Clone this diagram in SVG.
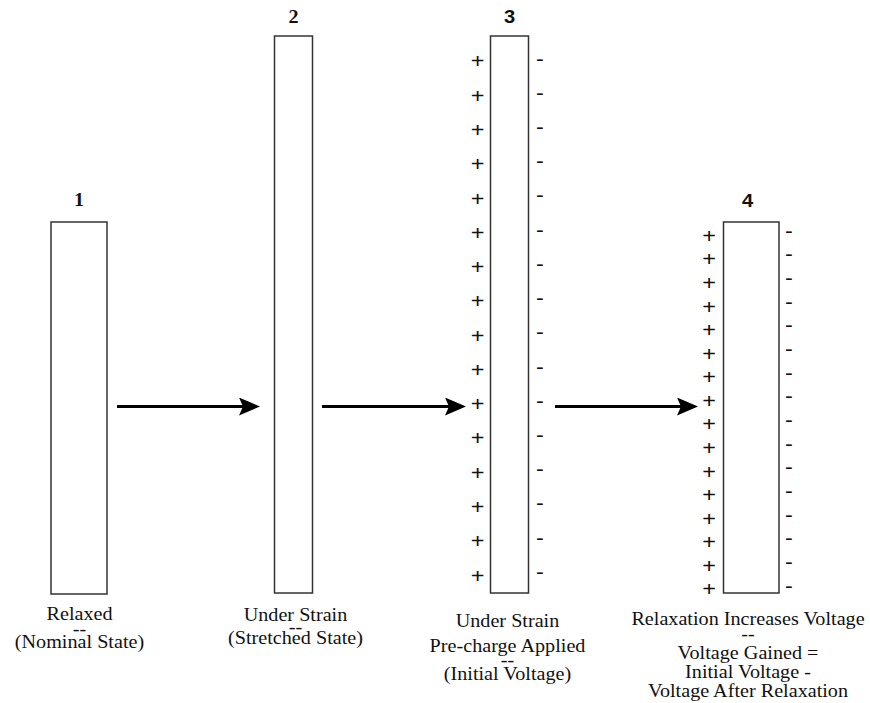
<svg xmlns="http://www.w3.org/2000/svg" width="870" height="703" viewBox="0 0 870 703">
<style>
.box{fill:#fff;stroke:#333;stroke-width:1.5}
.lbl{font-size:18px;fill:#111;text-anchor:middle}
.num{font-size:18px;font-weight:bold;fill:#111;text-anchor:middle}
.nums{font-size:18px;font-weight:bold;fill:#111;text-anchor:middle}
.pm{font-size:21px;fill:#111;text-anchor:middle}
.arr{stroke:#000;stroke-width:3;fill:none;marker-end:url(#ah)}
</style>
<defs>
<marker id="ah" markerUnits="userSpaceOnUse" markerWidth="21" markerHeight="18" viewBox="0 0 21 18" refX="4" refY="9" orient="auto">
<path d="M0,0 L21,9 L0,18 L4,9 Z" fill="#000"/>
</marker>
</defs>
<rect width="870" height="703" fill="#fff"/>
<g id="connectors">
<line class="arr" x1="117" y1="406.5" x2="243" y2="406.5"/>
<line class="arr" x1="322" y1="406.5" x2="449" y2="406.5"/>
<line class="arr" x1="555" y1="406.5" x2="681" y2="406.5"/>
</g>
<g font-family="Liberation Serif, Times New Roman, serif">
<g id="node1">
<rect class="box" x="51" y="222" width="56" height="372"/>
<text class="num" transform="translate(79,206) scale(1.12,1)">1</text>
<text class="lbl" transform="translate(79.5,620) scale(1.12,1)">Relaxed</text>
<text class="lbl" transform="translate(79.5,634.5) scale(1.12,1)">--</text>
<text class="lbl" transform="translate(79.5,647.5) scale(1.12,1)">(Nominal State)</text>
</g>
<g id="node2">
<rect class="box" x="274.5" y="36" width="38" height="557"/>
<text class="num" transform="translate(293.5,23) scale(1.12,1)">2</text>
<text class="lbl" transform="translate(295.5,621) scale(1.12,1)">Under Strain</text>
<text class="lbl" transform="translate(295.5,633) scale(1.12,1)">--</text>
<text class="lbl" transform="translate(295.5,643.5) scale(1.12,1)">(Stretched State)</text>
</g>
<g id="node3">
<rect class="box" x="490.5" y="36" width="38" height="557"/>
<text class="nums" font-family="Liberation Sans, Arial, sans-serif" transform="translate(509.5,23) scale(1.12,1)">3</text>
<g class="pm" font-family="Liberation Sans, Arial, sans-serif">
<text transform="translate(477.5,68.4) scale(1.12,1)">+</text>
<text transform="translate(477.5,102.6) scale(1.12,1)">+</text>
<text transform="translate(477.5,136.9) scale(1.12,1)">+</text>
<text transform="translate(477.5,171.2) scale(1.12,1)">+</text>
<text transform="translate(477.5,205.5) scale(1.12,1)">+</text>
<text transform="translate(477.5,239.7) scale(1.12,1)">+</text>
<text transform="translate(477.5,274.0) scale(1.12,1)">+</text>
<text transform="translate(477.5,308.3) scale(1.12,1)">+</text>
<text transform="translate(477.5,342.6) scale(1.12,1)">+</text>
<text transform="translate(477.5,376.8) scale(1.12,1)">+</text>
<text transform="translate(477.5,411.1) scale(1.12,1)">+</text>
<text transform="translate(477.5,445.4) scale(1.12,1)">+</text>
<text transform="translate(477.5,479.7) scale(1.12,1)">+</text>
<text transform="translate(477.5,513.9) scale(1.12,1)">+</text>
<text transform="translate(477.5,548.2) scale(1.12,1)">+</text>
<text transform="translate(477.5,582.5) scale(1.12,1)">+</text>
<text transform="translate(540,65.6) scale(1.12,1)">-</text>
<text transform="translate(540,99.8) scale(1.12,1)">-</text>
<text transform="translate(540,134.0) scale(1.12,1)">-</text>
<text transform="translate(540,168.2) scale(1.12,1)">-</text>
<text transform="translate(540,202.4) scale(1.12,1)">-</text>
<text transform="translate(540,236.7) scale(1.12,1)">-</text>
<text transform="translate(540,270.9) scale(1.12,1)">-</text>
<text transform="translate(540,305.1) scale(1.12,1)">-</text>
<text transform="translate(540,339.3) scale(1.12,1)">-</text>
<text transform="translate(540,373.5) scale(1.12,1)">-</text>
<text transform="translate(540,407.8) scale(1.12,1)">-</text>
<text transform="translate(540,442.0) scale(1.12,1)">-</text>
<text transform="translate(540,476.2) scale(1.12,1)">-</text>
<text transform="translate(540,510.4) scale(1.12,1)">-</text>
<text transform="translate(540,544.6) scale(1.12,1)">-</text>
<text transform="translate(540,578.9) scale(1.12,1)">-</text>
</g>
<text class="lbl" transform="translate(507.5,627) scale(1.12,1)">Under Strain</text>
<text class="lbl" transform="translate(507.5,651.5) scale(1.12,1)">Pre-charge Applied</text>
<text class="lbl" transform="translate(507.5,666) scale(1.12,1)">--</text>
<text class="lbl" transform="translate(507.5,680) scale(1.12,1)">(Initial Voltage)</text>
</g>
<g id="node4">
<rect class="box" x="723.5" y="222" width="55.5" height="371"/>
<text class="nums" font-family="Liberation Sans, Arial, sans-serif" transform="translate(747.5,206.5) scale(1.12,1)">4</text>
<g class="pm" font-family="Liberation Sans, Arial, sans-serif">
<text transform="translate(709,242.9) scale(1.12,1)">+</text>
<text transform="translate(709,266.4) scale(1.12,1)">+</text>
<text transform="translate(709,290.0) scale(1.12,1)">+</text>
<text transform="translate(709,313.6) scale(1.12,1)">+</text>
<text transform="translate(709,337.1) scale(1.12,1)">+</text>
<text transform="translate(709,360.7) scale(1.12,1)">+</text>
<text transform="translate(709,384.3) scale(1.12,1)">+</text>
<text transform="translate(709,407.9) scale(1.12,1)">+</text>
<text transform="translate(709,431.4) scale(1.12,1)">+</text>
<text transform="translate(709,455.0) scale(1.12,1)">+</text>
<text transform="translate(709,478.6) scale(1.12,1)">+</text>
<text transform="translate(709,502.1) scale(1.12,1)">+</text>
<text transform="translate(709,525.7) scale(1.12,1)">+</text>
<text transform="translate(709,549.3) scale(1.12,1)">+</text>
<text transform="translate(709,572.9) scale(1.12,1)">+</text>
<text transform="translate(709,596.4) scale(1.12,1)">+</text>
<text transform="translate(789,237.6) scale(1.12,1)">-</text>
<text transform="translate(789,261.2) scale(1.12,1)">-</text>
<text transform="translate(789,284.9) scale(1.12,1)">-</text>
<text transform="translate(789,308.6) scale(1.12,1)">-</text>
<text transform="translate(789,332.2) scale(1.12,1)">-</text>
<text transform="translate(789,355.9) scale(1.12,1)">-</text>
<text transform="translate(789,379.6) scale(1.12,1)">-</text>
<text transform="translate(789,403.3) scale(1.12,1)">-</text>
<text transform="translate(789,426.9) scale(1.12,1)">-</text>
<text transform="translate(789,450.6) scale(1.12,1)">-</text>
<text transform="translate(789,474.3) scale(1.12,1)">-</text>
<text transform="translate(789,497.9) scale(1.12,1)">-</text>
<text transform="translate(789,521.6) scale(1.12,1)">-</text>
<text transform="translate(789,545.3) scale(1.12,1)">-</text>
<text transform="translate(789,569.0) scale(1.12,1)">-</text>
<text transform="translate(789,592.6) scale(1.12,1)">-</text>
</g>
<text class="lbl" transform="translate(748,625) scale(1.12,1)">Relaxation Increases Voltage</text>
<text class="lbl" transform="translate(748,640) scale(1.12,1)">--</text>
<text class="lbl" transform="translate(748,659) scale(1.12,1)">Voltage Gained =</text>
<text class="lbl" transform="translate(748,678) scale(1.12,1)">Initial Voltage -</text>
<text class="lbl" transform="translate(748,696.5) scale(1.12,1)">Voltage After Relaxation</text>
</g>
</g>
</svg>
